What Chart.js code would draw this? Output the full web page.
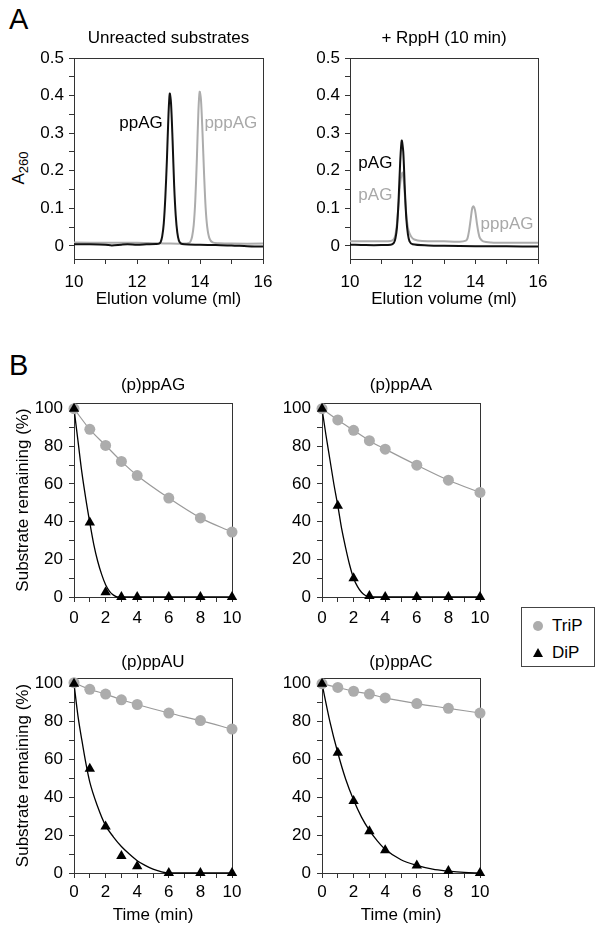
<!DOCTYPE html>
<html>
<head>
<meta charset="utf-8">
<script src="https://cdn.jsdelivr.net/npm/chart.js@4/dist/chart.umd.min.js"></script>
<style>
  body { margin: 0; background: #fff; width: 604px; height: 932px; position: relative; overflow: hidden;
         font-family: "Liberation Sans", Arial, sans-serif; color: #000; }
  .box { position: absolute; }
  canvas { display: block; }
  .letter { position: absolute; font-size: 29px; line-height: 29px; }
  .ytitle { position: absolute; font-size: 17px; white-space: nowrap; transform: translate(-50%, -50%) rotate(-90deg); }
  .ytitle sub { font-size: 13px; vertical-align: -4px; }
  .legend { position: absolute; left: 521px; top: 607px; width: 72px; height: 58px; border: 1px solid #444; font-size: 17px; }
  .legend .row { position: absolute; left: 0; height: 20px; line-height: 20px; }
  .legend .dot { position: absolute; left: 11px; top: 5px; width: 10px; height: 10px; border-radius: 50%; background: #acacac; }
  .legend .tri { position: absolute; left: 11px; top: 5px; width: 0; height: 0; border-left: 5px solid transparent;
                 border-right: 5px solid transparent; border-bottom: 9px solid #000; }
  .legend .txt { position: absolute; left: 30px; top: 0; }
</style>
</head>
<body>

<div class="letter" style="left:9px; top:5px">A</div>
<div class="letter" style="left:9px; top:351px">B</div>
<div class="ytitle" style="left:20px; top:168px">A<sub>260</sub></div>

<div class="box" style="left:0px; top:19px"><canvas id="unreacted" width="290" height="291"></canvas></div>
<div class="box" style="left:276px; top:19px"><canvas id="rpph" width="289" height="291"></canvas></div>

<div class="box" style="left:0px; top:369px"><canvas id="ppAG" width="250" height="268"></canvas></div>
<div class="box" style="left:248px; top:369px"><canvas id="ppAA" width="250" height="268"></canvas></div>
<div class="box" style="left:0px; top:644px"><canvas id="ppAU" width="250" height="282"></canvas></div>
<div class="box" style="left:248px; top:644px"><canvas id="ppAC" width="250" height="282"></canvas></div>

<div class="legend">
  <div class="row" style="top:8px"><span class="dot"></span><span class="txt">TriP</span></div>
  <div class="row" style="top:35px"><span class="tri"></span><span class="txt">DiP</span></div>
</div>

<script>
// --- A: chromatograms (elution volume in ml, A260) ---
var unreactedBlackX = [10, 10.5, 11, 11.2, 11.5, 11.7, 12, 12.3, 12.6, 12.7, 12.75, 12.8, 12.85, 12.9, 12.95, 13, 13.04, 13.08, 13.13, 13.18, 13.23, 13.28, 13.33, 13.4, 13.5, 14, 14.5, 15, 15.5, 16]
var unreactedBlackY = [0.004, 0.004, 0.003, 0.001, 0.003, 0.004, 0.003, 0.004, 0.005, 0.006, 0.01, 0.025, 0.06, 0.13, 0.23, 0.35, 0.405, 0.38, 0.28, 0.16, 0.08, 0.035, 0.014, 0.006, 0.004, 0.003, 0.002, 0.001, -0.001, -0.002]
var unreactedGrayX = [10, 11, 12, 12.5, 13, 13.5, 13.65, 13.7, 13.75, 13.8, 13.85, 13.9, 13.95, 13.99, 14.03, 14.08, 14.13, 14.18, 14.23, 14.3, 14.4, 14.6, 15, 16]
var unreactedGrayY = [0.009, 0.008, 0.008, 0.007, 0.006, 0.006, 0.008, 0.012, 0.025, 0.055, 0.12, 0.23, 0.36, 0.41, 0.39, 0.3, 0.19, 0.1, 0.05, 0.02, 0.009, 0.007, 0.006, 0.006]

var rpphBlackX = [10, 10.5, 11, 11.3, 11.4, 11.45, 11.5, 11.55, 11.6, 11.65, 11.7, 11.75, 11.8, 11.85, 11.9, 12, 12.5, 13, 14, 15, 16]
var rpphBlackY = [0.003, 0.002, 0.002, 0.003, 0.008, 0.02, 0.05, 0.12, 0.22, 0.28, 0.25, 0.15, 0.07, 0.03, 0.012, 0.004, 0.001, 0, -0.001, -0.001, -0.002]
var rpphGrayX = [10, 11, 11.3, 11.4, 11.45, 11.5, 11.55, 11.6, 11.67, 11.72, 11.77, 11.82, 11.87, 11.95, 12.05, 12.3, 13, 13.5, 13.7, 13.75, 13.8, 13.85, 13.9, 13.94, 13.99, 14.05, 14.1, 14.15, 14.25, 14.5, 15, 16]
var rpphGrayY = [0.012, 0.012, 0.013, 0.018, 0.03, 0.06, 0.11, 0.165, 0.195, 0.17, 0.11, 0.065, 0.04, 0.025, 0.017, 0.013, 0.012, 0.011, 0.014, 0.02, 0.04, 0.07, 0.1, 0.105, 0.095, 0.06, 0.035, 0.02, 0.012, 0.009, 0.008, 0.008]

var elutionTicks = [10, 11, 12, 13, 14, 15, 16]
var elutionLabels = [10, 12, 14, 16]
var absTicks = [0, 0.05, 0.1, 0.15, 0.2, 0.25, 0.3, 0.35, 0.4, 0.45, 0.5]
var absLabels = [0, 0.1, 0.2, 0.3, 0.4, 0.5]

// --- B: substrate remaining (%) vs time (min) ---
var sampleTimes = [0, 1, 2, 3, 4, 6, 8, 10]

var agTriP = [100, 89, 80.5, 72, 64.5, 52.5, 42, 34.5]
var agDiP = [100, 39.5, 2.5, 0, 0, 0, 0, 0]
var agFitX = [0, 0.25, 0.5, 0.75, 1, 1.25, 1.5, 1.75, 2, 2.25, 2.5, 2.75, 3, 10]
var agFitY = [100, 83, 66, 52, 39.5, 28, 19, 12, 6.5, 3, 1, 0, 0, 0]

var aaTriP = [100, 94, 88.5, 83, 78.5, 70, 62, 55.5]
var aaDiP = [100, 48.5, 10, 0.5, 0, 0, 0, 0]
var aaFitX = [0, 0.25, 0.5, 0.75, 1, 1.25, 1.5, 1.75, 2, 2.25, 2.5, 2.75, 3, 10]
var aaFitY = [100, 86, 73, 60, 48.5, 36, 26, 17, 10, 5.5, 2.5, 0.8, 0, 0]

var auTriP = [100.5, 97, 94.5, 91.5, 89, 84.5, 80.5, 76]
var auDiP = [100, 55, 24.5, 9, 3.5, 0, 0, 0]
var auFitX = [0, 0.25, 0.5, 0.75, 1, 1.5, 2, 2.5, 3, 3.5, 4, 4.5, 5, 5.5, 6, 10]
var auFitY = [100, 83, 70, 58, 48, 35, 25, 19, 14, 10, 6.5, 4, 2, 0.7, 0, 0]

var acTriP = [100, 98, 96, 94.5, 92.5, 89.5, 87, 84.5]
var acDiP = [100, 63.5, 38, 22, 12, 4, 1, 0]
var acFitX = [0, 0.5, 1, 1.5, 2, 2.5, 3, 3.5, 4, 5, 6, 7, 8, 9, 10]
var acFitY = [100, 80, 63.5, 49.5, 38.5, 29.5, 22.5, 17, 12.5, 7, 4, 2, 1, 0.3, 0]

var timeTicks = [0, 1, 2, 3, 4, 5, 6, 7, 8, 9, 10]
var timeLabels = [0, 2, 4, 6, 8, 10]
var remainTicks = [0, 10, 20, 30, 40, 50, 60, 70, 80, 90, 100]
var remainLabels = [0, 20, 40, 60, 80, 100]

var FONT = "'Liberation Sans', Arial, sans-serif"
var AXIS = "#333333"
var GRAY = "#acacac"

Chart.defaults.font.family = FONT
Chart.defaults.font.size = 17
Chart.defaults.font.weight = "normal"
Chart.defaults.color = "#000000"
Chart.defaults.animation = false

function points(xs, ys) {
  var out = new Array()
  for (var i = 0; i < xs.length; i++) {
    out.push({ x: xs[i], y: ys[i] })
  }
  return out
}

function fixedTicks(values) {
  return function (scale) {
    scale.ticks = values.map(function (v) { return { value: v } })
  }
}

function onlyLabels(labels) {
  return function (value) {
    return labels.indexOf(value) >= 0 ? String(value) : ""
  }
}

// frame lines on top and right, no ticks
function frameAxes(xMin, xMax, yMin, yMax) {
  return {
    x2: {
      type: "linear", position: "top", min: xMin, max: xMax,
      grid: { display: false }, ticks: { display: false },
      border: { display: true, color: AXIS, width: 1 },
      afterFit: function (s) { s.height = 0 }
    },
    y2: {
      type: "linear", position: "right", min: yMin, max: yMax,
      grid: { display: false }, ticks: { display: false },
      border: { display: true, color: AXIS, width: 1 },
      afterFit: function (s) { s.width = 0 }
    }
  }
}

var peakLabels = {
  id: "peakLabels",
  afterDatasetsDraw: function (chart, args, opts) {
    var ctx = chart.ctx
    ctx.save()
    ctx.font = "17px " + FONT
    ctx.textAlign = "center"
    ctx.textBaseline = "middle"
    opts.items.forEach(function (item) {
      ctx.fillStyle = item.color
      ctx.fillText(item.text, chart.scales.x.getPixelForValue(item.x), chart.scales.y.getPixelForValue(item.y))
    })
    ctx.restore()
  }
}

var titleFont = { size: 17, weight: "normal" }

function buildChromatogram(id, title, blackX, blackY, grayX, grayY, labels) {
  var scales = {
    x: {
      type: "linear", position: "bottom", min: 10, max: 16,
      afterBuildTicks: fixedTicks(elutionTicks),
      ticks: { autoSkip: false, maxRotation: 0, padding: 8, callback: onlyLabels(elutionLabels) },
      grid: { drawOnChartArea: false, color: AXIS, tickLength: 5 },
      border: { color: AXIS, width: 1 },
      title: { display: true, text: "Elution volume (ml)", padding: 0, font: titleFont },
      afterFit: function (s) { s.height = 51 }
    },
    y: {
      type: "linear", position: "left", min: -0.035, max: 0.5,
      afterBuildTicks: fixedTicks(absTicks),
      ticks: { autoSkip: false, padding: 5, callback: onlyLabels(absLabels) },
      grid: { drawOnChartArea: false, color: AXIS, tickLength: 5 },
      border: { color: AXIS, width: 1 },
      afterFit: function (s) { s.width = 74 }
    }
  }
  Object.assign(scales, frameAxes(10, 16, -0.035, 0.5))

  new Chart(document.getElementById(id), {
    type: "scatter",
    plugins: [peakLabels],
    data: {
      datasets: [
        { data: points(blackX, blackY), showLine: true, borderColor: "#111111", borderWidth: 2, pointRadius: 0, tension: 0.3 },
        { data: points(grayX, grayY), showLine: true, borderColor: GRAY, borderWidth: 2, pointRadius: 0, tension: 0.3 }
      ]
    },
    options: {
      responsive: false,
      layout: { padding: { left: 0, right: 27, top: 0, bottom: 0 } },
      scales: scales,
      plugins: {
        legend: { display: false },
        tooltip: { enabled: false },
        title: { display: true, text: title, fullSize: false, font: titleFont, color: "#000", padding: { top: 9, bottom: 9.6 } },
        peakLabels: { items: labels }
      }
    }
  })
}

function buildKinetics(id, title, trip, dip, fitX, fitY, opts) {
  var scales = {
    x: {
      type: "linear", position: "bottom", min: 0, max: 10,
      afterBuildTicks: fixedTicks(timeTicks),
      ticks: { autoSkip: false, maxRotation: 0, padding: opts.tickPad, callback: onlyLabels(timeLabels) },
      grid: { drawOnChartArea: false, color: AXIS, tickLength: 5 },
      border: { color: AXIS, width: 1 },
      title: { display: opts.timeTitle, text: "Time (min)", padding: 0, font: titleFont },
      afterFit: function (s) { s.height = opts.xHeight }
    },
    y: {
      type: "linear", position: "left", min: 0, max: 103,
      afterBuildTicks: fixedTicks(remainTicks),
      ticks: { autoSkip: false, padding: 6, callback: onlyLabels(remainLabels) },
      grid: { drawOnChartArea: false, color: AXIS, tickLength: 5 },
      border: { color: AXIS, width: 1 },
      title: { display: opts.yTitle, text: "Substrate remaining (%)", font: titleFont, padding: { top: 13, bottom: 0 } },
      afterFit: function (s) { s.width = 74 }
    }
  }
  Object.assign(scales, frameAxes(0, 10, 0, 103))

  new Chart(document.getElementById(id), {
    type: "scatter",
    data: {
      datasets: [
        { label: "DiP", data: points(sampleTimes, dip), showLine: false, pointStyle: "triangle", pointRadius: 6,
          pointBackgroundColor: "#000000", pointBorderWidth: 0, clip: false },
        { label: "TriP", data: points(sampleTimes, trip), showLine: true, borderColor: "#9a9a9a", borderWidth: 1.2,
          cubicInterpolationMode: "monotone", pointRadius: 5.5, pointBackgroundColor: GRAY, pointBorderWidth: 0, clip: false },
        { label: "DiP fit", data: points(fitX, fitY), showLine: true, borderColor: "#000000", borderWidth: 1.3,
          cubicInterpolationMode: "monotone", pointRadius: 0, clip: false }
      ]
    },
    options: {
      responsive: false,
      layout: { padding: { left: 0, right: 18, top: 0, bottom: 0 } },
      scales: scales,
      plugins: {
        legend: { display: false },
        tooltip: { enabled: false },
        title: { display: true, text: title, fullSize: false, font: titleFont, color: "#000",
                 padding: { top: opts.titleTop, bottom: opts.titleBottom } }
      }
    }
  })
}

buildChromatogram("unreacted", "Unreacted substrates", unreactedBlackX, unreactedBlackY, unreactedGrayX, unreactedGrayY, [
  { text: "ppAG", x: 12.13, y: 0.325, color: "#000000" },
  { text: "pppAG", x: 14.98, y: 0.325, color: "#a8a8a8" }
])
buildChromatogram("rpph", "+ RppH (10 min)", rpphBlackX, rpphBlackY, rpphGrayX, rpphGrayY, [
  { text: "pAG", x: 10.81, y: 0.22, color: "#000000" },
  { text: "pAG", x: 10.81, y: 0.135, color: "#a8a8a8" },
  { text: "pppAG", x: 15.01, y: 0.058, color: "#a8a8a8" }
])

var topRow = { tickPad: 6, timeTitle: false, xHeight: 40, titleTop: 6, titleBottom: 7.6 }
var bottomRow = { tickPad: 4, timeTitle: true, xHeight: 53, titleTop: 8, titleBottom: 5.6 }

buildKinetics("ppAG", "(p)ppAG", agTriP, agDiP, agFitX, agFitY, Object.assign({ yTitle: true }, topRow))
buildKinetics("ppAA", "(p)ppAA", aaTriP, aaDiP, aaFitX, aaFitY, Object.assign({ yTitle: false }, topRow))
buildKinetics("ppAU", "(p)ppAU", auTriP, auDiP, auFitX, auFitY, Object.assign({ yTitle: true }, bottomRow))
buildKinetics("ppAC", "(p)ppAC", acTriP, acDiP, acFitX, acFitY, Object.assign({ yTitle: false }, bottomRow))
</script>
</body>
</html>
